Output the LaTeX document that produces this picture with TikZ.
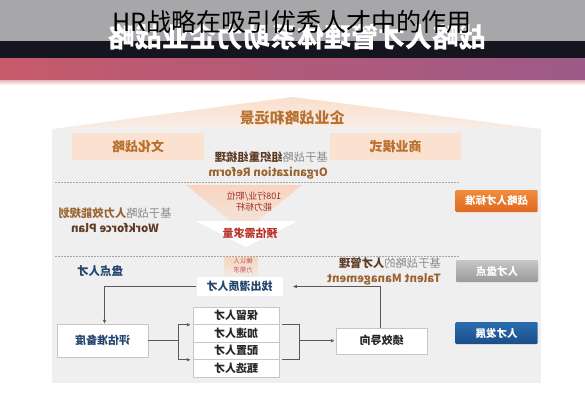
\documentclass[tikz,border=0pt]{standalone}
\usepackage{fontspec}
\usepackage{graphicx}
\setmainfont{Noto Sans CJK SC}
\usetikzlibrary{arrows.meta}
\definecolor{topgrey}{HTML}{A7A7AA}
\definecolor{darkband}{HTML}{15151F}
\definecolor{pinkL}{HTML}{C65A6B}
\definecolor{pinkR}{HTML}{9C5A88}
\definecolor{panel}{HTML}{EFEFF0}
\definecolor{roofT}{HTML}{FADFCB}
\definecolor{roofB}{HTML}{F7EEE8}
\definecolor{peach}{HTML}{FBE2D0}
\definecolor{orangeText}{HTML}{B8702E}
\definecolor{brownDark}{HTML}{5E3B22}
\definecolor{brownMid}{HTML}{9A6430}
\definecolor{lightTxt}{HTML}{8A8A8A}
\definecolor{tagO1}{HTML}{F08C3E}
\definecolor{tagO2}{HTML}{E0691F}
\definecolor{tagG1}{HTML}{C6C6C6}
\definecolor{tagG2}{HTML}{9A9A9A}
\definecolor{tagB1}{HTML}{2A6DB0}
\definecolor{tagB2}{HTML}{1B4E88}
\definecolor{navyText}{HTML}{24466E}
\definecolor{redText}{HTML}{B8322A}
\definecolor{funnel}{HTML}{F8D5BF}
\newcommand{\rf}[1]{\reflectbox{#1}}
\begin{document}
\begin{tikzpicture}[x=1pt,y=-1pt,
  conn/.style={draw=black!65,line width=0.7pt},
  arr/.style={conn,-{Latex[length=4pt,width=3.5pt]}},
  wbox/.style={draw=black!22,fill=white,line width=0.5pt,inner sep=0pt,text=black!85,font=\bfseries\fontsize{11}{12}\selectfont},
  tag/.style={minimum width=82pt,minimum height=22pt,inner sep=0pt,text=white,rounded corners=1pt,font=\bfseries\fontsize{10.5}{12}\selectfont},
  peachbox/.style={fill=peach,minimum height=27pt,inner sep=0pt,text=orangeText,font=\bfseries\fontsize{13}{14}\selectfont},
  desc/.style={inner sep=0pt,font=\fontsize{11.3}{15}\selectfont},
  dashline/.style={draw=black!35,line width=0.5pt,dash pattern=on 1.5pt off 1.5pt}
]
\useasboundingbox (0,0) rectangle (585,400);
\fill[white] (0,0) rectangle (585,400);
% header bands
\fill[topgrey] (0,0) rectangle (585,41);
\fill[darkband] (0,41) rectangle (585,58);
\shade[left color=pinkL,right color=pinkR] (0,58) rectangle (585,80);
\shade[top color=pinkL!45!white,bottom color=white] (0,80) rectangle (585,85);
\node[text=white,inner sep=0pt,font=\bfseries\fontsize{27}{27}\selectfont] (banner) at (297,37) {\rf{战略人才管理体系助力企业战略}};
\node[text=black,inner sep=0pt,font=\fontsize{25}{25}\selectfont] (title) at (292,22) {HR战略在吸引优秀人才中的作用};
% roof and panel
\shade[top color=roofT,bottom color=roofB] (52,129) -- (293,97) -- (541,129) -- cycle;
\fill[panel] (52,129) rectangle (541,383);
\draw[dashline] (55,182) -- (460,182);
\draw[dashline] (55,256) -- (460,256);
% funnel
\shade[top color=funnel,bottom color=funnel!35!panel] (186,185) -- (302,185) -- (244,232) -- cycle;
\fill[white] (196,221) -- (298,221) -- (246,247) -- cycle;
\shade[top color=funnel,bottom color=panel] (224,257) rectangle (258,280);
% texts top
\node[text=orangeText,inner sep=0pt,font=\bfseries\fontsize{15}{16}\selectfont] (vision) at (292,118) {\rf{企业战略和远景}};
\node[peachbox,minimum width=132pt] (culture) at (138,146.5) {\rf{文化战略}};
\node[peachbox,minimum width=131pt] (biz) at (395.5,146.5) {\rf{商业模式}};
\node[desc,anchor=east,align=right] (org) at (328,165) {\rf{{\color{lightTxt}基于战略}{\bfseries\color{brownDark}组织重组梳理}}\\ \rf{\bfseries\color{brownMid}Organization Reform}};
\node[desc,align=center] (wf) at (115,220) {\rf{{\color{lightTxt}基于战略}{\bfseries\color{brownMid}人力效能规划}}\\ \rf{\bfseries\color{brownDark}Workforce Plan}};
\node[desc,anchor=east,align=right] (tm) at (441,271) {\rf{{\color{lightTxt}基于战略的}{\bfseries\color{brownDark}人才管理}}\\ \rf{\bfseries\color{brownMid}Talent Management}};
% funnel texts
\node[inner sep=0pt,text=redText!85!black,align=center,font=\fontsize{9}{11}\selectfont] (bench) at (254,202) {\rf{108行业/职位}\\ \rf{能力标杆}};
\node[inner sep=0pt,text=redText,font=\bfseries\fontsize{11}{12}\selectfont] (demand) at (250,233) {\rf{预估需求量}};
\node[inner sep=0pt,text=redText!80,align=center,font=\fontsize{6.5}{9}\selectfont] (confirm) at (243,266) {\rf{确认人}\\ \rf{力需求}};
% tags
\node[tag,top color=tagO1,bottom color=tagO2] (std) at (496.5,201) {\rf{战略人才标准}};
\node[tag,top color=tagG1,bottom color=tagG2] (inv) at (497,271) {\rf{人才盘点}};
\node[tag,top color=tagB1,bottom color=tagB2] (dev) at (496.5,333) {\rf{人才发展}};
% lower flow
\node[inner sep=0pt,text=navyText,font=\bfseries\fontsize{11.5}{12}\selectfont] (count) at (100,271) {\rf{盘点人才}};
\node[wbox,draw=none,minimum width=86pt,minimum height=19pt,text=navyText] (find) at (239.5,286.5) {\rf{找出潜质人才}};
\node[wbox,minimum width=91pt,minimum height=33pt,text=navyText] (assess) at (102.5,340.5) {\rf{评估准备度}};
\node[wbox,minimum width=86pt,minimum height=17.5pt] (s1) at (236,315.75) {\rf{保留人才}};
\node[wbox,minimum width=86pt,minimum height=17.5pt] (s2) at (236,333.25) {\rf{加速人才}};
\node[wbox,minimum width=86pt,minimum height=17.5pt] (s3) at (236,350.75) {\rf{配置人才}};
\node[wbox,minimum width=86pt,minimum height=17.5pt] (s4) at (236,368.25) {\rf{甄选人才}};
\node[wbox,minimum width=91pt,minimum height=26pt] (perf) at (381.5,340.75) {\rf{绩效导向}};
\coordinate (j1) at (178,340.5);
\coordinate (j2) at (299,340.75);
% connectors
\draw[arr,shorten >=10pt] ([xshift=-1.5pt]perf.north) |- (find.east);
\draw[arr] (find.west) -| ([xshift=2pt]assess.north);
\draw[conn] (assess.east) -- (j1);
\draw[arr,shorten >=2pt] (j1) |- (s1.south west);
\draw[arr,shorten >=2pt] (j1) |- (s3.south west);
\draw[conn,shorten <=3pt] (s1.south east) -| (j2);
\draw[conn,shorten <=3pt] (s3.south east) -| (j2);
\draw[arr,shorten >=1pt] (j2) -- (perf.west);
\end{tikzpicture}
\end{document}
